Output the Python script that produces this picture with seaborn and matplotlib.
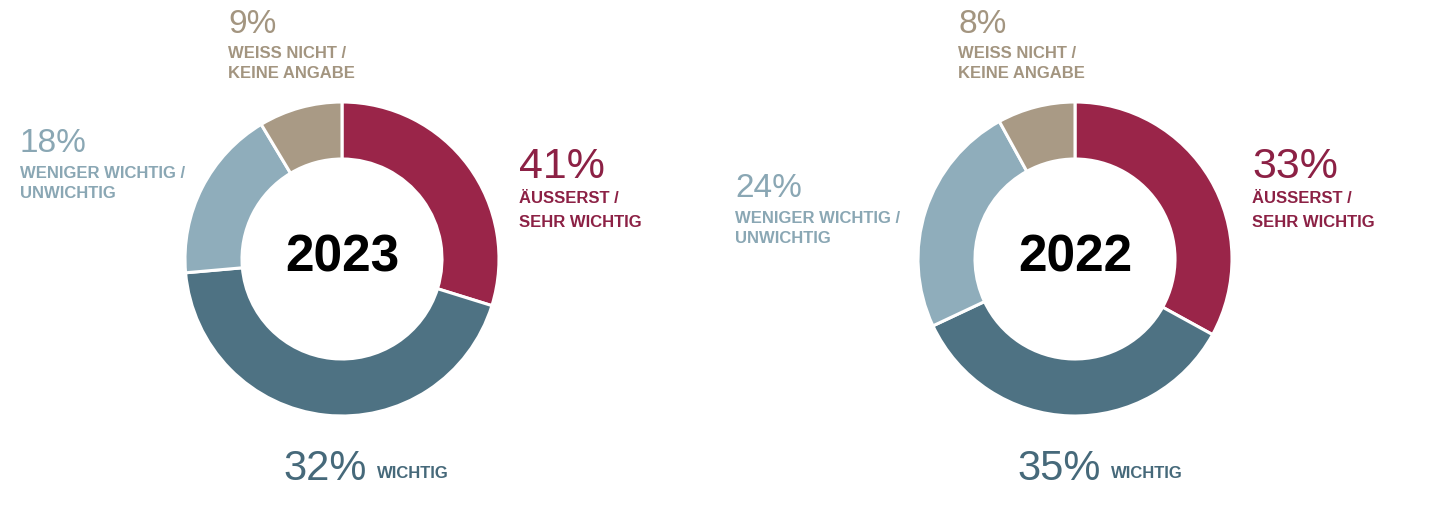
import matplotlib
matplotlib.use("Agg")
import matplotlib.pyplot as plt
import seaborn as sns

# data
categories = ["ÄUSSERST / SEHR WICHTIG", "WICHTIG", "WENIGER WICHTIG / UNWICHTIG", "WEISS NICHT / KEINE ANGABE"]
years = ["2023", "2022"]
# printed percentages
labels_2023 = [41, 32, 18, 9]
labels_2022 = [33, 35, 24, 8]
# ring shares as drawn in the original graphic (2023 ring is not to scale with its labels)
shares_2023 = [29.8, 43.8, 17.8, 8.6]
shares_2022 = [33, 35, 24, 8]
colors = ["#9a2549", "#4e7283", "#8fadbb", "#a99a85"]
text_colors = ["#8c2145", "#46697a", "#8aa7b4", "#a39580"]

sns.set_theme(style="white")
plt.rcParams["font.family"] = ["Liberation Sans", "DejaVu Sans"]

W, H = 1440, 516
fig = plt.figure(figsize=(14.4, 5.16), dpi=100)
ax = fig.add_axes([0, 0, 1, 1])


def Y(py):
    # pixel row from top -> data y
    return H - py


def draw_donut(shares, labels, year, cx, layout):
    ax.pie(shares, colors=colors, startangle=90, counterclock=False,
           radius=157, center=(cx, Y(259)),
           wedgeprops=dict(width=57, edgecolor="white", linewidth=2.2))
    ax.text(cx, Y(258), year, ha="center", va="center", fontsize=37,
            fontweight="bold", color="black")

    # top-right: red
    x, b = layout["red"]
    ax.text(x, Y(b), f"{labels[0]}%", fontsize=31, color=text_colors[0], va="baseline")
    ax.text(x, Y(b + 25), "ÄUSSERST /", fontsize=12, fontweight="bold", color=text_colors[0], va="baseline")
    ax.text(x, Y(b + 49), "SEHR WICHTIG", fontsize=12, fontweight="bold", color=text_colors[0], va="baseline")

    # bottom: teal
    x, b = layout["teal"]
    ax.text(x, Y(b), f"{labels[1]}%", fontsize=30, color=text_colors[1], va="baseline")
    ax.text(x + 94, Y(b - 2), "WICHTIG", fontsize=12, fontweight="bold", color=text_colors[1], va="baseline")

    # left: light blue
    x, b = layout["light"]
    ax.text(x, Y(b), f"{labels[2]}%", fontsize=24, color=text_colors[2], va="baseline")
    ax.text(x, Y(b + 26), "WENIGER WICHTIG /", fontsize=12, fontweight="bold", color=text_colors[2], va="baseline")
    ax.text(x, Y(b + 46), "UNWICHTIG", fontsize=12, fontweight="bold", color=text_colors[2], va="baseline")

    # top: tan
    x, b = layout["tan"]
    ax.text(x, Y(b), f"{labels[3]}%", fontsize=24, color=text_colors[3], va="baseline")
    ax.text(x, Y(b + 25), "WEISS NICHT /", fontsize=12, fontweight="bold", color=text_colors[3], va="baseline")
    ax.text(x, Y(b + 45), "KEINE ANGABE", fontsize=12, fontweight="bold", color=text_colors[3], va="baseline")


draw_donut(shares_2023, labels_2023, years[0], 342,
           {"red": (519, 178), "teal": (283, 480), "light": (20, 152), "tan": (228, 33)})
draw_donut(shares_2022, labels_2022, years[1], 1075,
           {"red": (1252, 178), "teal": (1017, 480), "light": (735, 197), "tan": (958, 33)})

ax.set_xlim(0, W)
ax.set_ylim(0, H)
ax.set_aspect("auto")
ax.axis("off")

fig.savefig("out.png", dpi=100, facecolor="white")
